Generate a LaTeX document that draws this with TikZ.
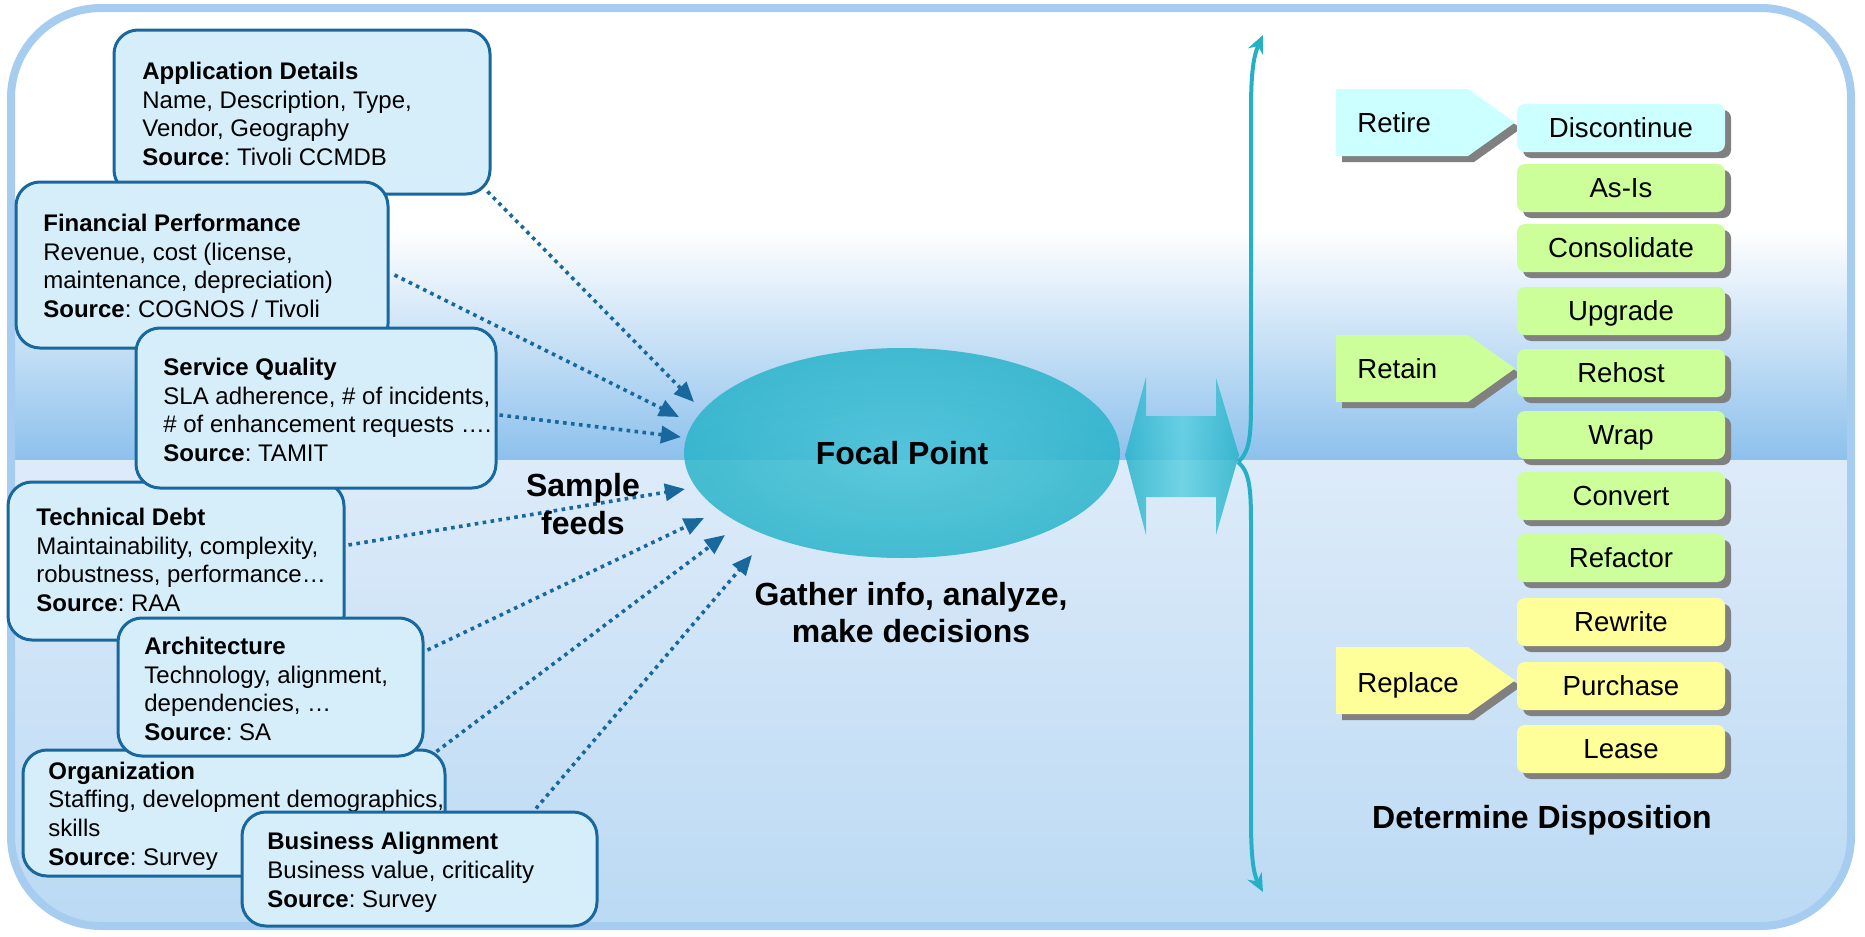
\documentclass[tikz,border=0pt]{standalone}
\usepackage{fontspec}
\setmainfont{Liberation Sans}
\usetikzlibrary{arrows.meta,shapes.geometric,shadows}
\definecolor{boxfill}{RGB}{214,238,250}
\definecolor{boxline}{RGB}{24,104,158}
\definecolor{frameline}{RGB}{166,205,240}
\definecolor{skyblue}{RGB}{140,192,236}
\definecolor{lowtop}{RGB}{221,235,249}
\definecolor{lowbot}{RGB}{186,217,243}
\definecolor{tealA}{RGB}{42,180,202}
\definecolor{tealB}{RGB}{72,196,216}
\definecolor{tealC}{RGB}{95,208,226}
\definecolor{bracecol}{RGB}{38,176,198}
\definecolor{cyanbox}{RGB}{204,255,255}
\definecolor{greenbox}{RGB}{204,255,153}
\definecolor{yellowbox}{RGB}{255,255,153}
\definecolor{shadowgray}{RGB}{128,128,128}
\begin{document}
\frenchspacing
\begin{tikzpicture}[x=0.5pt,y=-0.5pt,
  infobox/.style={draw=boxline,fill=boxfill,line width=1.5pt,rounded corners=12pt,inner sep=0pt},
  infotext/.style={align=left,inner sep=0pt,anchor=west,font=\fontsize{12}{14.4}\selectfont},
  feed/.style={draw=boxline,line width=1.8pt,dash pattern=on 1.8pt off 2.2pt,-{Triangle[length=10pt,width=8.5pt]}},
  dispbox/.style={rounded corners=4pt,minimum width=104pt,minimum height=24pt,inner sep=0pt,text height=9.9pt,text depth=0pt,font=\fontsize{13.8}{16}\selectfont,drop shadow={shadow xshift=3pt,shadow yshift=-3pt,fill=shadowgray,opacity=1}},
  labeltext/.style={anchor=base west,inner sep=0pt,font=\fontsize{13.8}{16}\selectfont},
  bigbold/.style={align=center,inner sep=0pt,font=\fontsize{16}{19}\selectfont\bfseries},
  bracearrow/.style={draw=bracecol,line width=2pt,-{Stealth[length=9pt,width=8pt]}}
]
\useasboundingbox (0,0) rectangle (1865,937);
% background
\begin{scope}
\clip[rounded corners=45pt] (11,8) rectangle (1851,926);
\fill[white] (0,0) rectangle (1865,230);
\shade[top color=white,bottom color=skyblue] (0,229) rectangle (1865,461);
\shade[top color=lowtop,bottom color=lowbot] (0,460) rectangle (1865,937);
\end{scope}
\draw[frameline,line width=4pt,rounded corners=45pt] (11,8) rectangle (1851,926);

% info boxes
\node[infobox,minimum width=188pt,minimum height=82pt] (app) at (302,112) {};
\node[infotext] (appt) at (142,114) {\textbf{Application Details}\\Name, Description, Type,\\Vendor, Geography\\\textbf{Source}: Tivoli CCMDB};
\node[infobox,minimum width=186pt,minimum height=83pt] (fin) at (202,265) {};
\node[infotext] (fint) at (43,266) {\textbf{Financial Performance}\\Revenue, cost (license,\\maintenance, depreciation)\\\textbf{Source}: COGNOS / Tivoli};
\node[infobox,minimum width=168pt,minimum height=79pt] (td) at (176,561) {};
\node[infotext] (tdt) at (36,560) {\textbf{Technical Debt}\\Maintainability, complexity,\\robustness, performance…\\\textbf{Source}: RAA};
\node[infobox,minimum width=211pt,minimum height=63pt] (org) at (234,813) {};
\node[infotext] (orgt) at (48,816) {\textbf{Organization}\\Staffing, development demographics,\\skills\\\textbf{Source}: Survey};
\node[infobox,minimum width=180pt,minimum height=80pt] (sq) at (316,408) {};
\node[infotext] (sqt) at (163,410) {\textbf{Service Quality}\\SLA adherence, \# of incidents,\\\# of enhancement requests ….\\\textbf{Source}: TAMIT};
\node[infobox,minimum width=152.5pt,minimum height=69pt] (arch) at (270.5,687) {};
\node[infotext] (archt) at (144,689) {\textbf{Architecture}\\Technology, alignment,\\dependencies, …\\\textbf{Source}: SA};
\node[infobox,minimum width=177.5pt,minimum height=57pt] (bus) at (419.5,869) {};
\node[infotext] (bust) at (267,872) {\textbf{Business Alignment}\\Business value, criticality\\\textbf{Source}: Survey};

% focal point
\node[ellipse,minimum width=218pt,minimum height=105pt,inner sep=0pt,inner color=tealB,outer color=tealA,fill opacity=0.85,text opacity=1,font=\fontsize{16}{19}\selectfont\bfseries] (focal) at (902,453) {Focal Point};

% feed arrows
\draw[feed] ([shift={(-4,-4)}]app.south east) -- ([shift={(-208,-51)}]focal.center);
\draw[feed] ([shift={(5,10)}]fin.east) -- ([shift={(-223,-36)}]focal.center);
\draw[feed] ([shift={(2,7)}]sq.east) -- ([shift={(-221,-16)}]focal.center);
\draw[feed] ([shift={(3,-16)}]td.east) -- ([shift={(-217,36)}]focal.center);
\draw[feed] ([shift={(3,-37)}]arch.east) -- ([shift={(-198,65)}]focal.center);
\draw[feed] ([shift={(-10,3)}]org.north east) -- ([shift={(-177,82)}]focal.center);
\draw[feed] ([shift={(116.5,-2)}]bus.north) -- ([shift={(-150,102)}]focal.center);

\node[bigbold] (sample) at (583,504) {Sample\\feeds};
\node[bigbold,font=\fontsize{16}{18.5}\selectfont\bfseries] (gather) at (911,613) {Gather info, analyze,\\make decisions};

% double arrow
\shade[left color=tealA,right color=tealA,middle color=tealC,fill opacity=0.85]
  (1125,455) -- (1146,377) -- (1146,416) -- (1216,416) -- (1216,378) -- (1239,455)
  -- (1216,535) -- (1216,497) -- (1146,497) -- (1146,535) -- cycle;

% brace
\coordinate (bp) at (1238,462);
\coordinate (btop) at (1263,35);
\coordinate (bbot) at (1263,892);
\draw[bracearrow] (bp) .. controls (1250,452) and (1251,435) .. (1251,400) -- (1251,110) .. controls (1251,70) and (1254,55) .. (btop);
\draw[bracearrow] (bp) .. controls (1250,472) and (1251,490) .. (1251,525) -- (1251,820) .. controls (1251,860) and (1254,875) .. (bbot);

% category labels
\fill[shadowgray] (1342,95) -- (1474,95) -- (1521,128.5) -- (1474,162) -- (1342,162) -- cycle;
\fill[cyanbox] (1336,89) -- (1468,89) -- (1515,122.5) -- (1468,156) -- (1336,156) -- cycle;
\node[labeltext] (retire) at (1357,132) {Retire};
\fill[shadowgray] (1342,341) -- (1474,341) -- (1521,374.5) -- (1474,408) -- (1342,408) -- cycle;
\fill[greenbox] (1336,335) -- (1468,335) -- (1515,368.5) -- (1468,402) -- (1336,402) -- cycle;
\node[labeltext] (retain) at (1357,378) {Retain};
\fill[shadowgray] (1342,653) -- (1474,653) -- (1521,686.5) -- (1474,720) -- (1342,720) -- cycle;
\fill[yellowbox] (1336,647) -- (1468,647) -- (1515,680.5) -- (1468,714) -- (1336,714) -- cycle;
\node[labeltext] (replace) at (1357,692) {Replace};

% disposition boxes
\node[dispbox,fill=cyanbox] (disc) at (1621,128) {Discontinue};
\node[dispbox,fill=greenbox] (asis) at (1621,188) {As-Is};
\node[dispbox,fill=greenbox] (cons) at (1621,248) {Consolidate};
\node[dispbox,fill=greenbox] (upg) at (1621,311) {Upgrade};
\node[dispbox,fill=greenbox] (reh) at (1621,373) {Rehost};
\node[dispbox,fill=greenbox] (wrap) at (1621,435) {Wrap};
\node[dispbox,fill=greenbox] (conv) at (1621,496) {Convert};
\node[dispbox,fill=greenbox] (refa) at (1621,558) {Refactor};
\node[dispbox,fill=yellowbox] (rewr) at (1621,622) {Rewrite};
\node[dispbox,fill=yellowbox] (purc) at (1621,686) {Purchase};
\node[dispbox,fill=yellowbox] (leas) at (1621,749) {Lease};

\node[bigbold] (detd) at (1542,820) {Determine Disposition};
\end{tikzpicture}
\end{document}
